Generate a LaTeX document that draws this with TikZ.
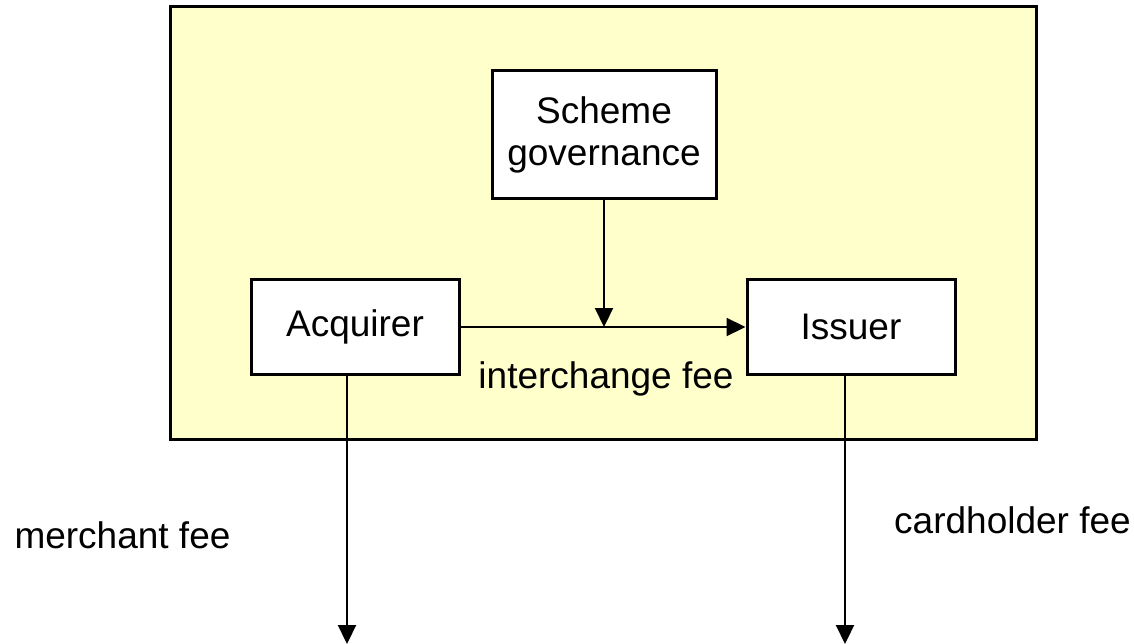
\documentclass[tikz,border=0pt]{standalone}
\usepackage{fontspec}
\setmainfont{Liberation Sans}
\usetikzlibrary{arrows.meta}
\definecolor{paleyellow}{HTML}{FFFFCC}
\begin{document}
\begin{tikzpicture}[x=1pt,y=-1pt,
  box/.style={draw=black, line width=3pt, fill=white, inner sep=0pt, align=center,
    font=\fontsize{37}{42}\selectfont},
  lbl/.style={inner sep=0pt, anchor=base, font=\fontsize{37}{42}\selectfont},
  conn/.style={line width=2.2pt, -{Triangle[length=19pt 0,width=18pt 0]}}]
\useasboundingbox (0,0) rectangle (1134,644);
\draw[line width=3pt, fill=paleyellow] (170,7) rectangle (1036,439);
\node[box, minimum width=224pt, minimum height=128pt] (scheme) at (604,135) {Scheme\\governance};
\node[box, minimum width=208pt, minimum height=95pt] (acq) at (355,326.5) {Acquirer};
\node[box, minimum width=208pt, minimum height=95pt] (iss) at (851,326.5) {Issuer};
\coordinate (acqout) at (347,374);
\coordinate (issout) at (845,374);
\coordinate (merch) at (347,644);
\coordinate (card) at (845,644);
\draw[conn] (acq.east |- 0,327) -- (iss.west |- 0,327);
\draw[conn] (scheme.south) -- (604,327);
\draw[conn] (acq.south -| acqout) -- (merch);
\draw[conn] (iss.south -| issout) -- (card);
\node[lbl] (ifee) at (606,388) {interchange fee};
\node[lbl] (mfee) at (122.5,548) {merchant fee};
\node[lbl] (cfee) at (1012.5,533) {cardholder fee};
\end{tikzpicture}
\end{document}
